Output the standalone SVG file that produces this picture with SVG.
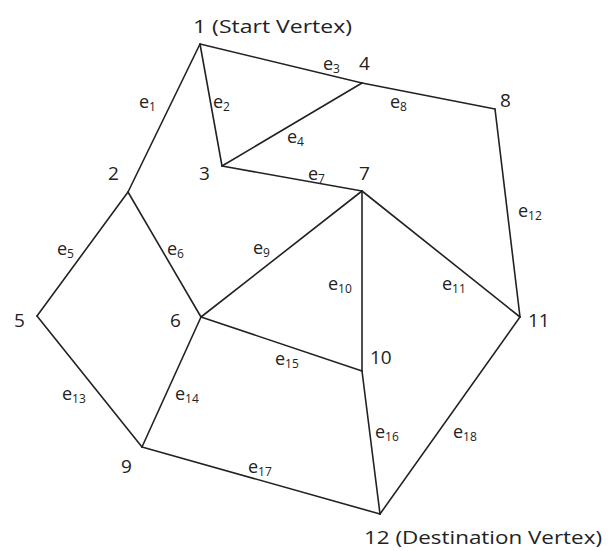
<svg xmlns="http://www.w3.org/2000/svg" width="611" height="551" viewBox="0 0 611 551">
<style>
text{font-family:"Open Sans","Noto Sans","Liberation Sans",sans-serif;fill:#222}
.n{font-size:19px}
.e{font-size:18px}
.s{font-size:12px}
line{stroke:#222;stroke-width:1.6;stroke-linecap:round}
</style>
<rect width="611" height="551" fill="#fff"/>
<g id="connectors">
<line x1="200" y1="44" x2="128" y2="192"/>
<line x1="200" y1="44" x2="222" y2="166"/>
<line x1="200" y1="44" x2="362" y2="83"/>
<line x1="222" y1="166" x2="362" y2="83"/>
<line x1="128" y1="192" x2="37" y2="316"/>
<line x1="128" y1="192" x2="201" y2="317"/>
<line x1="222" y1="166" x2="362" y2="191"/>
<line x1="362" y1="83" x2="495" y2="109"/>
<line x1="201" y1="317" x2="362" y2="191"/>
<line x1="362" y1="191" x2="362" y2="371"/>
<line x1="362" y1="191" x2="520" y2="317"/>
<line x1="495" y1="109" x2="520" y2="317"/>
<line x1="37" y1="316" x2="142" y2="447"/>
<line x1="201" y1="317" x2="142" y2="447"/>
<line x1="201" y1="317" x2="362" y2="371"/>
<line x1="362" y1="371" x2="380" y2="514"/>
<line x1="142" y1="447" x2="380" y2="514"/>
<line x1="520" y1="317" x2="380" y2="514"/>
<text class="e" x="139" y="108">e<tspan class="s" dy="3">1</tspan></text>
<text class="e" x="213" y="108">e<tspan class="s" dy="3">2</tspan></text>
<text class="e" x="323" y="70">e<tspan class="s" dy="3">3</tspan></text>
<text class="e" x="287" y="143">e<tspan class="s" dy="3">4</tspan></text>
<text class="e" x="57" y="255">e<tspan class="s" dy="3">5</tspan></text>
<text class="e" x="167" y="255">e<tspan class="s" dy="3">6</tspan></text>
<text class="e" x="308" y="180">e<tspan class="s" dy="3">7</tspan></text>
<text class="e" x="390" y="108">e<tspan class="s" dy="3">8</tspan></text>
<text class="e" x="253" y="254">e<tspan class="s" dy="3">9</tspan></text>
<text class="e" x="328" y="290">e<tspan class="s" dy="3">10</tspan></text>
<text class="e" x="442" y="290">e<tspan class="s" dy="3">11</tspan></text>
<text class="e" x="518" y="217">e<tspan class="s" dy="3">12</tspan></text>
<text class="e" x="62" y="400">e<tspan class="s" dy="3">13</tspan></text>
<text class="e" x="175" y="400">e<tspan class="s" dy="3">14</tspan></text>
<text class="e" x="275" y="365">e<tspan class="s" dy="3">15</tspan></text>
<text class="e" x="375" y="438">e<tspan class="s" dy="3">16</tspan></text>
<text class="e" x="248" y="473">e<tspan class="s" dy="3">17</tspan></text>
<text class="e" x="453" y="438">e<tspan class="s" dy="3">18</tspan></text>
</g>
<g id="v1"><text class="n" x="193" y="33" textLength="159" lengthAdjust="spacingAndGlyphs">1 (Start Vertex)</text></g>
<g id="v2"><text class="n" x="108" y="180">2</text></g>
<g id="v3"><text class="n" x="199" y="180">3</text></g>
<g id="v4"><text class="n" x="359" y="70">4</text></g>
<g id="v5"><text class="n" x="14" y="327">5</text></g>
<g id="v6"><text class="n" x="170" y="327">6</text></g>
<g id="v7"><text class="n" x="359" y="180">7</text></g>
<g id="v8"><text class="n" x="500" y="107">8</text></g>
<g id="v9"><text class="n" x="121" y="473">9</text></g>
<g id="v10"><text class="n" x="370" y="364">10</text></g>
<g id="v11"><text class="n" x="528" y="327">11</text></g>
<g id="v12"><text class="n" x="364" y="544" textLength="238" lengthAdjust="spacingAndGlyphs">12 (Destination Vertex)</text></g>
</svg>
